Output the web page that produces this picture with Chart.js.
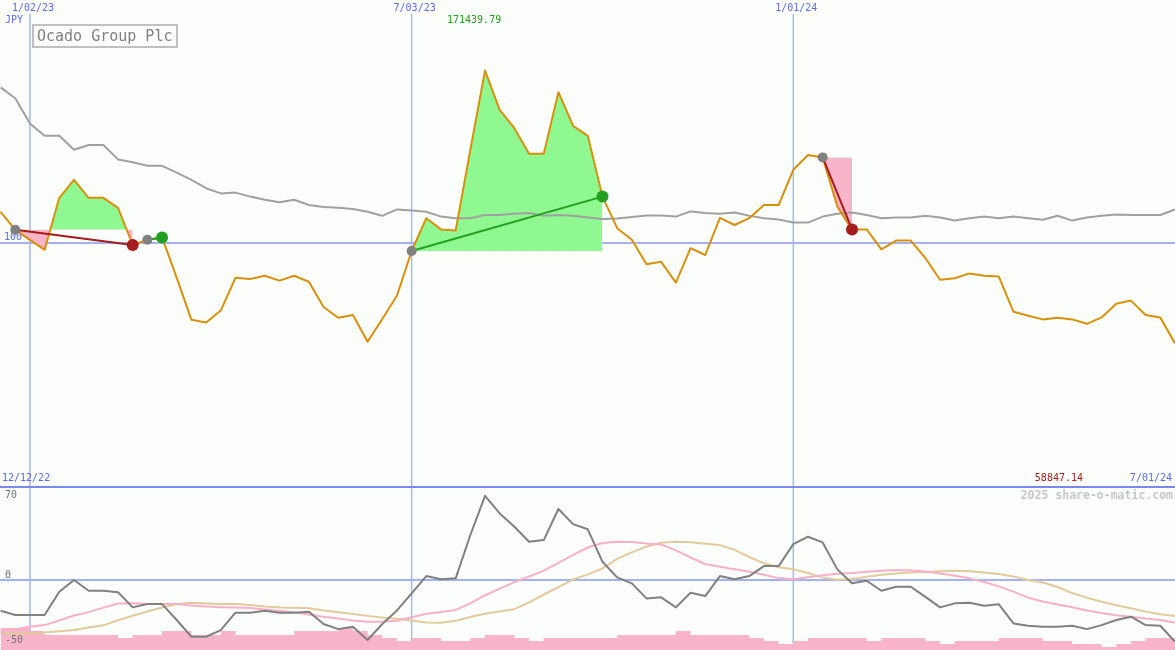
<!DOCTYPE html>
<html>
<head>
<meta charset="utf-8">
<script src="https://cdn.jsdelivr.net/npm/chart.js@4.4.1/dist/chart.umd.min.js"></script>
<style>
  html, body { margin: 0; padding: 0; background: #fcfefc; }
  canvas { display: block; }
</style>
</head>
<body>
<canvas id="chart" width="1175" height="650"></canvas>
<script>
// weekly points, week 0 = 2 Jan 2023
const firstWeek = -2;

// upper panel: price (orange) and relative line (gray)
const price = [
  107.8, 103.3, 100.8, 98.3, 111.3, 115.8, 111.3, 111.3, 108.8, 99.5,
  100.8, 101.4, 91.3, 80.8, 80.1, 83.1, 91.3, 91.0, 91.8, 90.6,
  91.8, 90.3, 84.0, 81.3, 82.0, 75.3, 81.0, 86.8, 98.0, 106.2,
  103.4, 103.1, 123.3, 143.1, 133.3, 128.7, 122.3, 122.3, 137.7, 129.3,
  126.8, 111.6, 103.7, 100.8, 94.7, 95.3, 90.1, 98.7, 97.0, 106.3,
  104.5, 106.2, 109.5, 109.5, 118.3, 122.0, 121.4, 109.1, 103.4, 103.4,
  98.4, 100.6, 100.6, 96.2, 90.8, 91.2, 92.4, 91.8, 91.6, 82.8,
  81.8, 80.9, 81.3, 80.9, 79.8, 81.4, 84.8, 85.6, 82.0, 81.4,
  74.9
];
const relative = [
  138.9, 136.2, 129.9, 126.8, 126.8, 123.3, 124.5, 124.5, 120.9, 120.2,
  119.3, 119.3, 117.6, 115.8, 113.7, 112.4, 112.6, 111.6, 110.8, 110.2,
  110.8, 109.5, 109.0, 108.8, 108.5, 107.8, 106.8, 108.4, 108.1, 107.8,
  106.6, 106.2, 106.2, 107.0, 107.0, 107.3, 107.5, 106.8, 107.0, 106.8,
  106.4, 106.0, 106.1, 106.5, 106.9, 106.9, 106.6, 107.9, 107.5, 107.3,
  107.6, 106.8, 106.2, 105.9, 105.1, 105.1, 106.6, 107.3, 107.6, 107.0,
  106.2, 106.4, 106.4, 106.8, 106.4, 105.6, 106.2, 106.6, 106.2, 106.6,
  106.2, 105.8, 106.8, 105.6, 106.4, 106.8, 107.1, 107.0, 107.0, 107.0,
  108.4
];

// lower panel: oscillator and two smoothed lines, plus volume
const momentum = [
  -25.3, -28.8, -28.8, -28.8, -9.6, 0, -8.8, -8.8, -10.1, -22.5,
  -19.8, -19.8, -32.9, -46.7, -46.7, -41.2, -26.9, -26.9, -25.3, -26.9,
  -26.9, -26.1, -36.2, -40.4, -38.5, -49.4, -36.2, -25.0, -11.0, 3.3,
  0.6, 1.4, 37.1, 69.4, 54.9, 43.9, 31.5, 32.9, 58.5, 46.1,
  41.8, 15.1, 2.2, -2.7, -15.1, -14.2, -22.5, -10.5, -13.2, 3.3,
  0.6, 3.3, 11.5, 11.5, 29.6, 35.7, 31.0, 8.8, -2.7, -0.6,
  -8.8, -5.5, -5.5, -13.8, -22.5, -19.2, -18.7, -21.2, -20.0, -35.7,
  -37.6, -38.5, -38.5, -37.6, -40.4, -37.1, -32.9, -30.2, -37.1, -37.6,
  -50.8
];
const smoothFast = [
  -42.5, -40.6, -38.5, -37.1, -33.3, -29.2, -26.4, -22.7, -19.3, -19.1,
  -19.7, -19.8, -19.8, -21.0, -21.8, -22.3, -22.7, -23.1, -24.2, -25.5,
  -26.6, -28.3, -30.3, -31.7, -33.4, -34.3, -34.3, -33.5, -30.6, -27.8,
  -26.3, -24.6, -19.2, -12.5, -7.1, -1.7, 2.9, 7.8, 14.2, 20.8,
  26.8, 30.5, 31.5, 31.4, 30.1, 29.3, 24.5, 18.6, 13.2, 11.0,
  8.9, 6.9, 4.4, 1.6, 0.7, 2.3, 4.0, 5.1, 5.9, 6.8,
  7.7, 8.2, 7.9, 7.0, 5.4, 3.5, 1.4, -1.6, -5.2, -9.5,
  -14.5, -17.6, -20.2, -22.4, -25.0, -27.2, -28.9, -30.3, -31.6, -32.9,
  -35.2
];
const smoothSlow = [
  -43.4, -44.5, -43.9, -43.1, -42.1, -41.2, -39.0, -37.3, -33.1, -29.4,
  -25.9, -22.6, -19.8, -18.7, -19.3, -19.8, -19.8, -20.6, -21.8, -22.5,
  -22.8, -23.3, -25.0, -26.6, -28.0, -29.5, -30.9, -31.8, -33.4, -35.0,
  -35.2, -33.6, -30.5, -27.7, -25.8, -24.0, -18.4, -11.9, -5.8, 0.5,
  4.7, 9.5, 17.5, 22.8, 27.7, 30.7, 31.5, 31.2, 29.9, 28.8,
  24.9, 19.0, 13.8, 10.5, 8.9, 5.8, 2.0, 0.2, 0.8, 2.8,
  4.4, 5.5, 6.2, 6.7, 7.2, 7.7, 7.2, 6.2, 5.0, 2.9,
  0.1, -2.0, -5.7, -10.7, -14.5, -17.9, -20.8, -23.3, -26.0, -28.1,
  -29.6
];
const volume = [
  10, 11, 11, 9.5, 7.5, 7.5, 7.5, 7.5, 7.5, 6,
  7.5, 7.5, 9.5, 9.5, 7.5, 7.5, 9.5, 7.5, 7.5, 7.5,
  7.5, 9.5, 9.5, 9.5, 11, 9.5, 7.5, 6, 4.5, 6,
  6, 4.5, 4.5, 6, 7.5, 7.5, 6, 4.5, 6, 6,
  6, 6, 6, 7.5, 7.5, 7.5, 7.5, 9.5, 7.5, 7.5,
  7.5, 7.5, 6, 4.5, 3, 4.5, 6, 6, 6, 6,
  4.5, 6, 6, 6, 4.5, 3, 4.5, 4.5, 4.5, 6,
  6, 6, 4.5, 4.5, 3, 3, 1.5, 3, 4.5, 6,
  6
];

// trades as [entry week, exit week]
const trades = [[-1, 7], [8, 9], [26, 39], [54, 56]];

// date markers
const dateLabels = ['1/02/23', '7/03/23', '1/01/24'];
const dateWeeks = [0, 26, 52];
const oscTicks = [70, 0, -50];

const idx = w => w - firstWeek;
const pts = arr => arr.map((v, i) => ({ x: firstWeek + i, y: v }));
const pricePt = w => ({ x: w, y: price[idx(w)] });

const GREEN_FILL = '#90f890';
const PINK_FILL = '#f8b4c8';
const BLUE = '#5a6af0';

const datasets = [];

// markers on top
trades.forEach(([a, b]) => {
  const win = price[idx(b)] > price[idx(a)];
  datasets.push({
    data: [pricePt(a)], showLine: false, order: 0, yAxisID: 'y',
    pointRadius: 5, pointBackgroundColor: '#808080', pointBorderWidth: 0
  });
  datasets.push({
    data: [pricePt(b)], showLine: false, order: 0, yAxisID: 'y',
    pointRadius: 6, pointBackgroundColor: win ? '#22a022' : '#a41c1c', pointBorderWidth: 0
  });
  datasets.push({
    data: [pricePt(a), pricePt(b)], order: 1, yAxisID: 'y',
    borderColor: win ? '#22a022' : '#a41c1c', borderWidth: 2, pointRadius: 0
  });
  const span = [];
  for (let w = a; w <= b; w++) span.push(pricePt(w));
  datasets.push({
    data: span, order: 4, yAxisID: 'y', borderWidth: 0, pointRadius: 0,
    fill: { target: { value: price[idx(a)] }, above: GREEN_FILL, below: PINK_FILL }
  });
});

datasets.push(
  { data: pts(price), order: 2, yAxisID: 'y', borderColor: '#d8900a', borderWidth: 2, pointRadius: 0 },
  { data: pts(relative), order: 3, yAxisID: 'y', borderColor: '#a0a0a0', borderWidth: 2, pointRadius: 0 },
  { data: pts(momentum), order: 5, yAxisID: 'y2', borderColor: '#808080', borderWidth: 2, pointRadius: 0 },
  { data: pts(smoothFast), order: 6, yAxisID: 'y2', borderColor: '#f8b0c8', borderWidth: 2, pointRadius: 0 },
  { data: pts(smoothSlow), order: 7, yAxisID: 'y2', borderColor: '#e2ca9c', borderWidth: 2, pointRadius: 0 },
  { data: pts(volume), order: 8, yAxisID: 'yv', stepped: 'after', borderWidth: 0, pointRadius: 0,
    fill: 'start', backgroundColor: PINK_FILL }
);

const decor = {
  id: 'decor',
  beforeDraw(chart) {
    const c = chart.ctx;
    c.save();
    c.fillStyle = '#fcfefc';
    c.fillRect(0, 0, chart.width, chart.height);
    c.restore();
  },
  beforeDatasetsDraw(chart) {
    const c = chart.ctx, x = chart.scales.x, y = chart.scales.y, y2 = chart.scales.y2;
    c.save();
    // vertical date lines
    c.strokeStyle = '#a8b6f4';
    c.lineWidth = 1.5;
    dateWeeks.forEach(w => {
      const px = x.getPixelForValue(w);
      c.beginPath(); c.moveTo(px, 14); c.lineTo(px, chart.height); c.stroke();
    });
    // level lines
    c.strokeStyle = '#a4b2f2';
    c.lineWidth = 2;
    [y.getPixelForValue(100), y2.getPixelForValue(0)].forEach(py => {
      c.beginPath(); c.moveTo(0, py); c.lineTo(chart.width, py); c.stroke();
    });
    // panel separator
    c.strokeStyle = '#7a88ee';
    c.beginPath(); c.moveTo(0, 487); c.lineTo(chart.width, 487); c.stroke();

    c.font = '10px "DejaVu Sans Mono", monospace';
    c.fillStyle = BLUE;
    c.textBaseline = 'bottom';
    c.fillText('100', 4, y.getPixelForValue(100) - 1);
    c.restore();
  },
  afterDraw(chart) {
    const c = chart.ctx, x = chart.scales.x, y2 = chart.scales.y2;
    c.save();
    c.font = '10px "DejaVu Sans Mono", monospace';
    c.textBaseline = 'middle';
    c.fillStyle = BLUE;
    c.textAlign = 'center';
    dateLabels.forEach((t, i) => c.fillText(t, x.getPixelForValue(dateWeeks[i]) + 3, 8));
    c.textAlign = 'left';
    c.fillText('JPY', 5, 20);
    c.fillText('12/12/22', 2, 478);
    c.textAlign = 'right';
    c.fillText('7/01/24', 1172, 478);
    c.fillStyle = '#a41c1c';
    c.fillText('58847.14', 1083, 478);
    c.textAlign = 'left';
    c.fillStyle = '#22a022';
    c.fillText('171439.79', 447, 20);

    // oscillator ticks
    c.fillStyle = '#707070';
    oscTicks.forEach(v => {
      const py = y2.getPixelForValue(v) + (v === 0 ? -5 : 0);
      c.fillText(String(v), 5, py);
    });

    // watermark
    c.font = 'bold 11.5px "DejaVu Sans Mono", monospace';
    c.fillStyle = '#c6c6c6';
    c.textAlign = 'right';
    c.fillText('2025 share-o-matic.com', 1173, 496);

    // title box
    c.fillStyle = '#fcfefc';
    c.fillRect(33, 25, 144, 22);
    c.strokeStyle = '#c0c0c0';
    c.lineWidth = 2;
    c.strokeRect(33, 25, 144, 22);
    c.font = '15px "DejaVu Sans Mono", monospace';
    c.fillStyle = '#808080';
    c.textAlign = 'left';
    c.fillText('Ocado Group Plc', 37, 37);
    c.restore();
  }
};

new Chart(document.getElementById('chart').getContext('2d'), {
  type: 'line',
  data: { datasets },
  options: {
    responsive: false,
    animation: false,
    devicePixelRatio: 1,
    layout: { padding: 0, autoPadding: false },
    plugins: { legend: { display: false }, tooltip: { enabled: false } },
    elements: { line: { tension: 0, borderJoinStyle: 'round' } },
    scales: {
      x: { type: 'linear', min: -2.04, max: 78, display: false },
      y: { min: -1.75, max: 160.75, display: false },
      y2: { min: -57.6, max: 477.7, display: false },
      yv: { min: 0, max: 325, display: false }
    }
  },
  plugins: [decor]
});
</script>
</body>
</html>
